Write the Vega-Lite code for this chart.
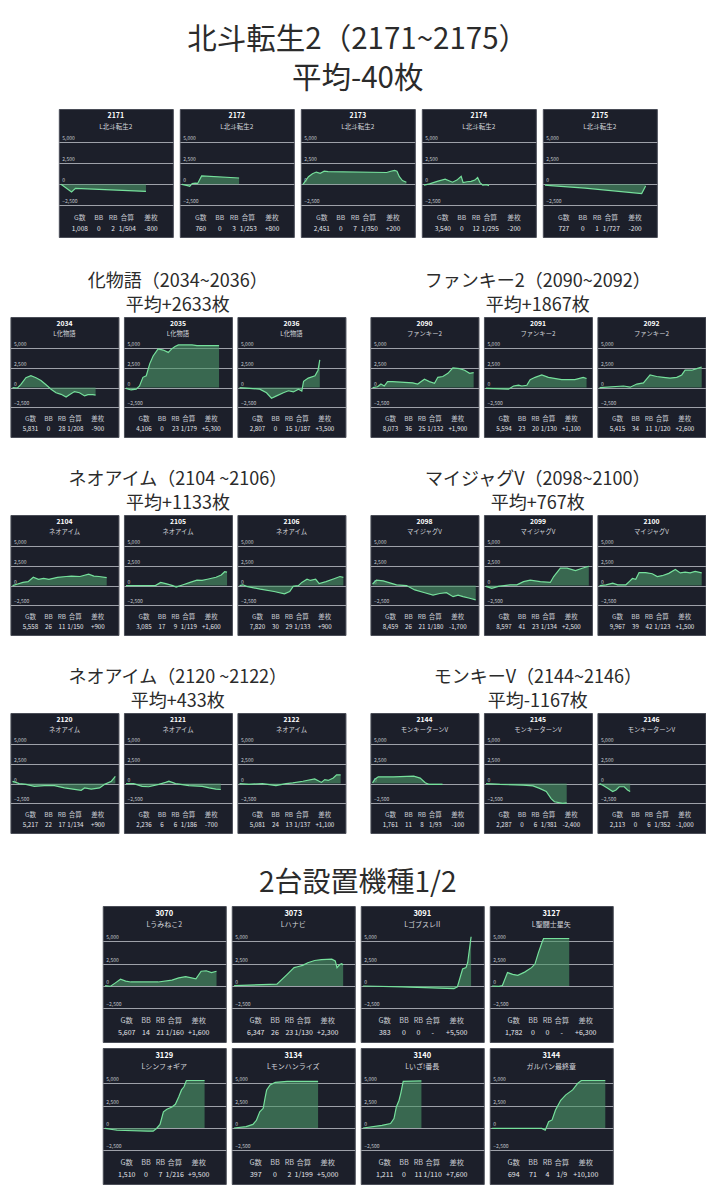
{
"$schema": "https://vega.github.io/schema/vega-lite/v6.json",
"background": "white",
"padding": {"left": 9, "top": 24, "right": 0, "bottom": 0},
"datasets": {"d": [
{"i":"2171","name":"L北斗転生2","G数":"1,008","BB":"0","RB":"2","合算":"1/504","差枚":"-800"},
{"i":"2172","name":"L北斗転生2","G数":"760","BB":"0","RB":"3","合算":"1/253","差枚":"+800"},
{"i":"2173","name":"L北斗転生2","G数":"2,451","BB":"0","RB":"7","合算":"1/350","差枚":"+200"},
{"i":"2174","name":"L北斗転生2","G数":"3,540","BB":"0","RB":"12","合算":"1/295","差枚":"-200"},
{"i":"2175","name":"L北斗転生2","G数":"727","BB":"0","RB":"1","合算":"1/727","差枚":"-200"},
{"i":"2034","name":"L化物語","G数":"5,831","BB":"0","RB":"28","合算":"1/208","差枚":"-900"},
{"i":"2035","name":"L化物語","G数":"4,106","BB":"0","RB":"23","合算":"1/179","差枚":"+5,300"},
{"i":"2036","name":"L化物語","G数":"2,807","BB":"0","RB":"15","合算":"1/187","差枚":"+3,500"},
{"i":"2090","name":"ファンキー2","G数":"8,073","BB":"36","RB":"25","合算":"1/132","差枚":"+1,900"},
{"i":"2091","name":"ファンキー2","G数":"5,594","BB":"23","RB":"20","合算":"1/130","差枚":"+1,100"},
{"i":"2092","name":"ファンキー2","G数":"5,415","BB":"34","RB":"11","合算":"1/120","差枚":"+2,600"},
{"i":"2104","name":"ネオアイム","G数":"5,558","BB":"26","RB":"11","合算":"1/150","差枚":"+900"},
{"i":"2105","name":"ネオアイム","G数":"3,085","BB":"17","RB":"9","合算":"1/119","差枚":"+1,600"},
{"i":"2106","name":"ネオアイム","G数":"7,820","BB":"30","RB":"29","合算":"1/133","差枚":"+900"},
{"i":"2098","name":"マイジャグV","G数":"8,459","BB":"26","RB":"21","合算":"1/180","差枚":"-1,700"},
{"i":"2099","name":"マイジャグV","G数":"8,597","BB":"41","RB":"23","合算":"1/134","差枚":"+2,500"},
{"i":"2100","name":"マイジャグV","G数":"9,967","BB":"39","RB":"42","合算":"1/123","差枚":"+1,500"},
{"i":"2120","name":"ネオアイム","G数":"5,217","BB":"22","RB":"17","合算":"1/134","差枚":"+900"},
{"i":"2121","name":"ネオアイム","G数":"2,236","BB":"6","RB":"6","合算":"1/186","差枚":"-700"},
{"i":"2122","name":"ネオアイム","G数":"5,081","BB":"24","RB":"13","合算":"1/137","差枚":"+1,100"},
{"i":"2144","name":"モンキーターンV","G数":"1,761","BB":"11","RB":"8","合算":"1/93","差枚":"-100"},
{"i":"2145","name":"モンキーターンV","G数":"2,287","BB":"0","RB":"6","合算":"1/381","差枚":"-2,400"},
{"i":"2146","name":"モンキーターンV","G数":"2,113","BB":"0","RB":"6","合算":"1/352","差枚":"-1,000"},
{"i":"3070","name":"Lうみねこ2","G数":"5,607","BB":"14","RB":"21","合算":"1/160","差枚":"+1,600"},
{"i":"3073","name":"Lハナビ","G数":"6,347","BB":"26","RB":"23","合算":"1/130","差枚":"+2,300"},
{"i":"3091","name":"LゴブスレII","G数":"383","BB":"0","RB":"0","合算":"-","差枚":"+5,500"},
{"i":"3127","name":"L聖闘士星矢","G数":"1,782","BB":"0","RB":"0","合算":"-","差枚":"+6,300"},
{"i":"3129","name":"Lシンフォギア","G数":"1,510","BB":"0","RB":"7","合算":"1/216","差枚":"+9,500"},
{"i":"3134","name":"Lモンハンライズ","G数":"397","BB":"0","RB":"2","合算":"1/199","差枚":"+5,000"},
{"i":"3140","name":"Lいざ!番長","G数":"1,211","BB":"0","RB":"11","合算":"1/110","差枚":"+7,600"},
{"i":"3144","name":"ガルパン最終章","G数":"694","BB":"71","RB":"4","合算":"1/9","差枚":"+10,100"},
{"i":"2171","x":0,"y":0},{"i":"2171","x":9.6,"y":-920},{"i":"2171","x":13.2,"y":-480},{"i":"2171","x":77.5,"y":-850},
{"i":"2172","x":0,"y":0},{"i":"2172","x":5,"y":-150},{"i":"2172","x":7.1,"y":-250},{"i":"2172","x":9.3,"y":100},{"i":"2172","x":12.1,"y":150},{"i":"2172","x":14.3,"y":100},{"i":"2172","x":17.9,"y":1000},{"i":"2172","x":52.1,"y":750},
{"i":"2173","x":0,"y":0},{"i":"2173","x":5,"y":900},{"i":"2173","x":8.6,"y":1250},{"i":"2173","x":12.1,"y":1450},{"i":"2173","x":15.7,"y":1300},{"i":"2173","x":19.3,"y":1550},{"i":"2173","x":22.9,"y":1500},{"i":"2173","x":76.4,"y":1400},{"i":"2173","x":80,"y":1550},{"i":"2173","x":83.6,"y":1650},{"i":"2173","x":85.7,"y":1550},{"i":"2173","x":87.9,"y":900},{"i":"2173","x":90.7,"y":450},{"i":"2173","x":94.3,"y":250},
{"i":"2174","x":0,"y":-100},{"i":"2174","x":5,"y":50},{"i":"2174","x":12,"y":350},{"i":"2174","x":19.3,"y":600},{"i":"2174","x":26,"y":250},{"i":"2174","x":30,"y":500},{"i":"2174","x":33.9,"y":950},{"i":"2174","x":35.7,"y":200},{"i":"2174","x":39.3,"y":300},{"i":"2174","x":42.9,"y":350},{"i":"2174","x":46.4,"y":500},{"i":"2174","x":48.9,"y":800},{"i":"2174","x":51.1,"y":200},{"i":"2174","x":53.6,"y":-100},{"i":"2174","x":57.1,"y":-50},{"i":"2174","x":59.3,"y":-150},
{"i":"2175","x":0,"y":-100},{"i":"2175","x":5,"y":-150},{"i":"2175","x":36.4,"y":-450},{"i":"2175","x":88.2,"y":-1100},{"i":"2175","x":91.8,"y":-200},
{"i":"2034","x":0,"y":0},{"i":"2034","x":4.8,"y":-50},{"i":"2034","x":8.1,"y":400},{"i":"2034","x":12.9,"y":1250},{"i":"2034","x":17.7,"y":1500},{"i":"2034","x":22.6,"y":1250},{"i":"2034","x":27.4,"y":900},{"i":"2034","x":32.3,"y":350},{"i":"2034","x":37.1,"y":-200},{"i":"2034","x":41.9,"y":-650},{"i":"2034","x":46.8,"y":-850},{"i":"2034","x":51.6,"y":-1200},{"i":"2034","x":54.8,"y":-900},{"i":"2034","x":59.7,"y":-500},{"i":"2034","x":64.5,"y":-650},{"i":"2034","x":69.4,"y":-1050},{"i":"2034","x":72.6,"y":-900},{"i":"2034","x":77.4,"y":-900},{"i":"2034","x":80,"y":-950},
{"i":"2035","x":0,"y":-100},{"i":"2035","x":4.9,"y":-300},{"i":"2035","x":9.8,"y":-200},{"i":"2035","x":13,"y":200},{"i":"2035","x":16.3,"y":1300},{"i":"2035","x":19.5,"y":1500},{"i":"2035","x":22.8,"y":3000},{"i":"2035","x":26.1,"y":4000},{"i":"2035","x":30.9,"y":4900},{"i":"2035","x":35.8,"y":4750},{"i":"2035","x":40.7,"y":4450},{"i":"2035","x":44,"y":4900},{"i":"2035","x":47.2,"y":5200},{"i":"2035","x":50.5,"y":5400},{"i":"2035","x":63.5,"y":5400},{"i":"2035","x":68.4,"y":5300},{"i":"2035","x":89.6,"y":5300},
{"i":"2036","x":0,"y":0},{"i":"2036","x":19.5,"y":-200},{"i":"2036","x":26,"y":-650},{"i":"2036","x":30.8,"y":-1350},{"i":"2036","x":35.7,"y":-1050},{"i":"2036","x":42.2,"y":-650},{"i":"2036","x":47.1,"y":-400},{"i":"2036","x":51.9,"y":-550},{"i":"2036","x":56.8,"y":-200},{"i":"2036","x":60,"y":-450},{"i":"2036","x":61.7,"y":800},{"i":"2036","x":66.2,"y":1200},{"i":"2036","x":72.7,"y":1500},{"i":"2036","x":75.6,"y":2200},{"i":"2036","x":77.3,"y":3500},
{"i":"2090","x":0,"y":0},{"i":"2090","x":4.8,"y":100},{"i":"2090","x":8.1,"y":450},{"i":"2090","x":11.3,"y":200},{"i":"2090","x":14.5,"y":750},{"i":"2090","x":19.4,"y":750},{"i":"2090","x":38.7,"y":600},{"i":"2090","x":43.5,"y":450},{"i":"2090","x":50,"y":1050},{"i":"2090","x":54.8,"y":750},{"i":"2090","x":59.7,"y":550},{"i":"2090","x":62.9,"y":1300},{"i":"2090","x":67.7,"y":1400},{"i":"2090","x":72.6,"y":1800},{"i":"2090","x":77.4,"y":2500},{"i":"2090","x":83.9,"y":2400},{"i":"2090","x":88.7,"y":2200},{"i":"2090","x":93.5,"y":1800},{"i":"2090","x":97.4,"y":1900},
{"i":"2091","x":0,"y":-100},{"i":"2091","x":21.7,"y":-200},{"i":"2091","x":26.5,"y":200},{"i":"2091","x":31.3,"y":300},{"i":"2091","x":34.5,"y":200},{"i":"2091","x":39.3,"y":300},{"i":"2091","x":42.5,"y":1000},{"i":"2091","x":47.3,"y":1300},{"i":"2091","x":53.7,"y":1600},{"i":"2091","x":60.1,"y":1300},{"i":"2091","x":72.8,"y":1000},{"i":"2091","x":85.6,"y":1000},{"i":"2091","x":93.6,"y":1300},{"i":"2091","x":96.8,"y":1150},
{"i":"2092","x":0,"y":0},{"i":"2092","x":23.1,"y":200},{"i":"2092","x":29.5,"y":50},{"i":"2092","x":35.9,"y":450},{"i":"2092","x":42.3,"y":600},{"i":"2092","x":48.7,"y":1600},{"i":"2092","x":55.1,"y":1400},{"i":"2092","x":61.5,"y":1300},{"i":"2092","x":67.9,"y":1200},{"i":"2092","x":74.4,"y":1300},{"i":"2092","x":79.2,"y":1600},{"i":"2092","x":82.4,"y":2200},{"i":"2092","x":88.8,"y":2200},{"i":"2092","x":93.6,"y":2400},{"i":"2092","x":98.4,"y":2600},
{"i":"2104","x":0,"y":0},{"i":"2104","x":5,"y":200},{"i":"2104","x":10,"y":400},{"i":"2104","x":15,"y":500},{"i":"2104","x":20,"y":1050},{"i":"2104","x":25,"y":800},{"i":"2104","x":30,"y":900},{"i":"2104","x":35,"y":800},{"i":"2104","x":43.3,"y":1050},{"i":"2104","x":51.7,"y":1150},{"i":"2104","x":56.7,"y":1200},{"i":"2104","x":65,"y":1150},{"i":"2104","x":73.3,"y":1450},{"i":"2104","x":78.3,"y":1200},{"i":"2104","x":83.3,"y":1150},{"i":"2104","x":90.7,"y":1000},
{"i":"2105","x":0,"y":0},{"i":"2105","x":28.3,"y":0},{"i":"2105","x":33.3,"y":400},{"i":"2105","x":38.3,"y":250},{"i":"2105","x":45,"y":0},{"i":"2105","x":48.3,"y":-200},{"i":"2105","x":55,"y":100},{"i":"2105","x":61.7,"y":400},{"i":"2105","x":68.3,"y":700},{"i":"2105","x":73.3,"y":650},{"i":"2105","x":78.3,"y":800},{"i":"2105","x":86.7,"y":1050},{"i":"2105","x":91.7,"y":1350},{"i":"2105","x":95,"y":1750},{"i":"2105","x":97.3,"y":1700},
{"i":"2106","x":0,"y":0},{"i":"2106","x":3.3,"y":100},{"i":"2106","x":6.7,"y":-100},{"i":"2106","x":20,"y":-450},{"i":"2106","x":33.3,"y":-750},{"i":"2106","x":43.3,"y":-1050},{"i":"2106","x":48.3,"y":-750},{"i":"2106","x":51.7,"y":-100},{"i":"2106","x":56.7,"y":0},{"i":"2106","x":60,"y":400},{"i":"2106","x":65,"y":800},{"i":"2106","x":68.3,"y":650},{"i":"2106","x":73.3,"y":800},{"i":"2106","x":76.7,"y":250},{"i":"2106","x":83.3,"y":500},{"i":"2106","x":91.7,"y":900},{"i":"2106","x":96.7,"y":1150},{"i":"2106","x":100,"y":1050},
{"i":"2098","x":0,"y":200},{"i":"2098","x":3.8,"y":700},{"i":"2098","x":10.3,"y":600},{"i":"2098","x":23.1,"y":100},{"i":"2098","x":32.7,"y":0},{"i":"2098","x":40.7,"y":-550},{"i":"2098","x":50.3,"y":-900},{"i":"2098","x":58.3,"y":-1200},{"i":"2098","x":64.7,"y":-1000},{"i":"2098","x":71.2,"y":-900},{"i":"2098","x":77.6,"y":-1400},{"i":"2098","x":82.4,"y":-1200},{"i":"2098","x":87.2,"y":-1400},{"i":"2098","x":93.6,"y":-1600},{"i":"2098","x":99.4,"y":-1800},
{"i":"2099","x":0,"y":-100},{"i":"2099","x":5.5,"y":-350},{"i":"2099","x":11.9,"y":-100},{"i":"2099","x":23.2,"y":100},{"i":"2099","x":29.7,"y":100},{"i":"2099","x":36.1,"y":500},{"i":"2099","x":42.6,"y":700},{"i":"2099","x":52.3,"y":500},{"i":"2099","x":61.9,"y":400},{"i":"2099","x":65.2,"y":1150},{"i":"2099","x":71.6,"y":2200},{"i":"2099","x":78.1,"y":2200},{"i":"2099","x":86.1,"y":1900},{"i":"2099","x":92.6,"y":2200},{"i":"2099","x":99,"y":2450},
{"i":"2100","x":0,"y":0},{"i":"2100","x":6.3,"y":100},{"i":"2100","x":12.7,"y":300},{"i":"2100","x":17.5,"y":100},{"i":"2100","x":25.4,"y":100},{"i":"2100","x":28.6,"y":500},{"i":"2100","x":31.7,"y":900},{"i":"2100","x":34.9,"y":800},{"i":"2100","x":38.1,"y":1650},{"i":"2100","x":44.4,"y":1650},{"i":"2100","x":50.8,"y":1500},{"i":"2100","x":55.6,"y":1150},{"i":"2100","x":60.3,"y":1250},{"i":"2100","x":66.7,"y":1550},{"i":"2100","x":73,"y":2050},{"i":"2100","x":77.8,"y":1600},{"i":"2100","x":82.5,"y":1700},{"i":"2100","x":87.3,"y":1600},{"i":"2100","x":92.1,"y":1800},{"i":"2100","x":98.4,"y":1600},
{"i":"2120","x":0,"y":300},{"i":"2120","x":3.2,"y":150},{"i":"2120","x":6.5,"y":0},{"i":"2120","x":12.9,"y":-100},{"i":"2120","x":21,"y":-350},{"i":"2120","x":30.6,"y":-250},{"i":"2120","x":40.3,"y":-250},{"i":"2120","x":50,"y":-550},{"i":"2120","x":58.1,"y":-700},{"i":"2120","x":66.1,"y":-850},{"i":"2120","x":69.4,"y":-550},{"i":"2120","x":75.8,"y":-700},{"i":"2120","x":83.9,"y":-550},{"i":"2120","x":88.7,"y":-100},{"i":"2120","x":95.2,"y":300},{"i":"2120","x":99,"y":900},
{"i":"2121","x":0,"y":0},{"i":"2121","x":7.4,"y":0},{"i":"2121","x":15.5,"y":-350},{"i":"2121","x":21.9,"y":-400},{"i":"2121","x":31.6,"y":-100},{"i":"2121","x":38.1,"y":150},{"i":"2121","x":41.3,"y":300},{"i":"2121","x":47.7,"y":0},{"i":"2121","x":60.6,"y":-250},{"i":"2121","x":73.5,"y":-350},{"i":"2121","x":80,"y":-550},{"i":"2121","x":86.5,"y":-700},{"i":"2121","x":91.3,"y":-750},
{"i":"2122","x":0,"y":0},{"i":"2122","x":9.1,"y":-100},{"i":"2122","x":22.1,"y":0},{"i":"2122","x":35.1,"y":-250},{"i":"2122","x":44.8,"y":0},{"i":"2122","x":51.3,"y":100},{"i":"2122","x":61,"y":300},{"i":"2122","x":72.4,"y":600},{"i":"2122","x":78.9,"y":150},{"i":"2122","x":82.1,"y":500},{"i":"2122","x":85.4,"y":400},{"i":"2122","x":90.3,"y":700},{"i":"2122","x":93.5,"y":1100},{"i":"2122","x":97.4,"y":1100},
{"i":"2144","x":0,"y":100},{"i":"2144","x":2.3,"y":550},{"i":"2144","x":5.5,"y":850},{"i":"2144","x":20.2,"y":850},{"i":"2144","x":39.7,"y":950},{"i":"2144","x":45.9,"y":700},{"i":"2144","x":50.8,"y":100},{"i":"2144","x":54.1,"y":-100},{"i":"2144","x":59,"y":-100},{"i":"2144","x":67.4,"y":-100},
{"i":"2145","x":0,"y":0},{"i":"2145","x":13.4,"y":-100},{"i":"2145","x":35.7,"y":-200},{"i":"2145","x":45.2,"y":-300},{"i":"2145","x":51.6,"y":-600},{"i":"2145","x":58,"y":-1000},{"i":"2145","x":62.7,"y":-1900},{"i":"2145","x":65.9,"y":-2300},{"i":"2145","x":73.9,"y":-2500},{"i":"2145","x":77.7,"y":-2450},
{"i":"2146","x":0,"y":0},{"i":"2146","x":3.2,"y":-200},{"i":"2146","x":7.9,"y":-600},{"i":"2146","x":12.7,"y":-1000},{"i":"2146","x":15.9,"y":-800},{"i":"2146","x":19,"y":-400},{"i":"2146","x":23.8,"y":-400},{"i":"2146","x":27,"y":-800},{"i":"2146","x":29.5,"y":-1000},
{"i":"3070","x":0,"y":50},{"i":"3070","x":4.3,"y":-50},{"i":"3070","x":8.7,"y":350},{"i":"3070","x":13,"y":750},{"i":"3070","x":17.4,"y":550},{"i":"3070","x":21.7,"y":450},{"i":"3070","x":44.9,"y":450},{"i":"3070","x":56.5,"y":650},{"i":"3070","x":62.3,"y":900},{"i":"3070","x":68.1,"y":1050},{"i":"3070","x":76.8,"y":800},{"i":"3070","x":81.2,"y":1650},{"i":"3070","x":85.5,"y":1700},{"i":"3070","x":89.9,"y":1500},{"i":"3070","x":94.2,"y":1650},
{"i":"3073","x":0,"y":50},{"i":"3073","x":36.2,"y":200},{"i":"3073","x":44.9,"y":1300},{"i":"3073","x":50.7,"y":2050},{"i":"3073","x":53.6,"y":2150},{"i":"3073","x":58,"y":2300},{"i":"3073","x":62.3,"y":2600},{"i":"3073","x":68.1,"y":2850},{"i":"3073","x":73.9,"y":2950},{"i":"3073","x":82.6,"y":3000},{"i":"3073","x":85.5,"y":2800},{"i":"3073","x":87,"y":2050},{"i":"3073","x":89.3,"y":2400},{"i":"3073","x":91,"y":2500},{"i":"3073","x":92.2,"y":2350},
{"i":"3091","x":0,"y":0},{"i":"3091","x":33.3,"y":-100},{"i":"3091","x":76.8,"y":-300},{"i":"3091","x":79.7,"y":-100},{"i":"3091","x":84.1,"y":1900},{"i":"3091","x":87,"y":2050},{"i":"3091","x":88.4,"y":2600},{"i":"3091","x":89.9,"y":4100},{"i":"3091","x":91.3,"y":5500},
{"i":"3127","x":0,"y":0},{"i":"3127","x":5.8,"y":-50},{"i":"3127","x":8.7,"y":50},{"i":"3127","x":13,"y":1500},{"i":"3127","x":17.4,"y":1300},{"i":"3127","x":21.7,"y":1200},{"i":"3127","x":27.5,"y":1550},{"i":"3127","x":33.3,"y":2050},{"i":"3127","x":36.2,"y":2450},{"i":"3127","x":39.1,"y":3700},{"i":"3127","x":42,"y":4800},{"i":"3127","x":43.5,"y":5300},{"i":"3127","x":65.2,"y":5300},
{"i":"3129","x":0,"y":-50},{"i":"3129","x":10.1,"y":-250},{"i":"3129","x":36.2,"y":-350},{"i":"3129","x":40.6,"y":-350},{"i":"3129","x":43.5,"y":-50},{"i":"3129","x":46.4,"y":400},{"i":"3129","x":49.3,"y":1800},{"i":"3129","x":52.2,"y":2100},{"i":"3129","x":56.5,"y":2350},{"i":"3129","x":59.4,"y":2650},{"i":"3129","x":62.3,"y":3500},{"i":"3129","x":64.6,"y":4250},{"i":"3129","x":66.7,"y":4600},{"i":"3129","x":68.7,"y":5300},{"i":"3129","x":84.1,"y":5300},
{"i":"3134","x":0,"y":0},{"i":"3134","x":10.1,"y":150},{"i":"3134","x":15.9,"y":400},{"i":"3134","x":18.8,"y":850},{"i":"3134","x":21.7,"y":1800},{"i":"3134","x":24.6,"y":2200},{"i":"3134","x":26.1,"y":3300},{"i":"3134","x":27.5,"y":4250},{"i":"3134","x":30.4,"y":4800},{"i":"3134","x":34.8,"y":5100},{"i":"3134","x":44.9,"y":5200},{"i":"3134","x":71,"y":5200},
{"i":"3140","x":0,"y":0},{"i":"3140","x":15.9,"y":300},{"i":"3140","x":23.2,"y":500},{"i":"3140","x":26.1,"y":1050},{"i":"3140","x":28.1,"y":2350},{"i":"3140","x":30.4,"y":3100},{"i":"3140","x":31.9,"y":3900},{"i":"3140","x":33.9,"y":5200},{"i":"3140","x":49.3,"y":5250},
{"i":"3144","x":0,"y":-50},{"i":"3144","x":42,"y":-50},{"i":"3144","x":44.9,"y":-250},{"i":"3144","x":47.8,"y":700},{"i":"3144","x":50.7,"y":900},{"i":"3144","x":53.6,"y":2000},{"i":"3144","x":58,"y":3100},{"i":"3144","x":62.3,"y":3700},{"i":"3144","x":68.1,"y":4250},{"i":"3144","x":72.5,"y":5000},{"i":"3144","x":75.4,"y":5300},{"i":"3144","x":95.7,"y":5300}
]},
"spacing": 35,
"center": true,
"vconcat": [
{"spacing": 34, "center": true, "vconcat": [
 {"data":{"name":"d"},"transform":[{"filter":{"field":"i","oneOf":["2171","2172","2173","2174","2175"]}}],
  "title":{"text":"北斗転生2（2171~2175）","subtitle":"平均-40枚","fontSize":29.5,"subtitleFontSize":29.5,"subtitlePadding":9.5,"offset":14.5},
  "facet":{"field":"i","type":"nominal","header":{"labels":false,"title":null,"labelFontSize":0,"labelPadding":0,"labelExpr":"''"}},"columns":5,"spacing":{"row":5,"column":5},
  "resolve":{"axis":{"y":"independent"}},
  "spec":{"width":114,"height":128,"resolve":{"scale":{"x":"independent"}},"layer":[
   {"transform":[{"filter":"isValid(datum.y)"}],"mark":"area","encoding":{"x":{"field":"x","type":"quantitative","scale":{"domain":[-2,102],"nice":false,"zero":false},"axis":null},"y":{"field":"y","type":"quantitative","scale":{"domain":[-6250,8930],"nice":false,"zero":false},"axis":{"values":[-2500,0,2500,5000],"tickCount":10,"format":",d","title":null}}}},
   {"transform":[{"filter":"isValid(datum.y)"}],"mark":"line","encoding":{"x":{"field":"x","type":"quantitative","scale":{"domain":[-2,102],"nice":false,"zero":false},"axis":null},"y":{"field":"y","type":"quantitative","scale":{"domain":[-6250,8930],"nice":false,"zero":false}}}},
   {"transform":[{"filter":"isValid(datum.name)"}],"mark":{"type":"text","fontSize":7,"fontWeight":"bold","color":"#ffffff"},"encoding":{"y":{"datum":8050},"text":{"field":"i"}}},
   {"transform":[{"filter":"isValid(datum.name)"}],"mark":{"type":"text","fontSize":6.5,"color":"#d4d6dc"},"encoding":{"y":{"datum":6800},"text":{"field":"name"}}},
   {"transform":[{"filter":"isValid(datum.name)"},{"fold":["G数","BB","RB","合算","差枚"],"as":["k","v"]}],"encoding":{"x":{"field":"k","type":"nominal","scale":{"type":"point","domain":["G数","a1","a2","a3","BB","a4","a5","RB","a6","a7","合算","a8","a9","a10","a11","差枚"],"range":[21,92.3],"padding":0},"axis":null}},"layer":[
     {"mark":{"type":"text","fontSize":6.8,"color":"#c8cbd2"},"encoding":{"y":{"datum":-3950},"text":{"field":"k"}}},
     {"mark":{"type":"text","fontSize":6.5,"color":"#e4e6ea"},"encoding":{"y":{"datum":-5300},"text":{"field":"v"}}}]}
  ]}},
 {"spacing": 32, "center": true, "vconcat": [
  {"spacing": 23, "hconcat": [
   {"data":{"name":"d"},"transform":[{"filter":{"field":"i","oneOf":["2034","2035","2036"]}}],
    "title":{"text":"化物語（2034~2036）","subtitle":"平均+2633枚","fontSize":18,"subtitleFontSize":18,"subtitlePadding":6,"offset":2},
    "facet":{"field":"i","type":"nominal","header":{"labels":false,"title":null,"labelFontSize":0,"labelPadding":0,"labelExpr":"''"}},"columns":3,"spacing":{"row":4,"column":3.5},
    "resolve":{"axis":{"y":"independent"}},
    "spec":{"width":108,"height":120,"resolve":{"scale":{"x":"independent"}},"layer":[
     {"transform":[{"filter":"isValid(datum.y)"}],"mark":"area","encoding":{"x":{"field":"x","type":"quantitative","scale":{"domain":[-2,102],"nice":false,"zero":false},"axis":null},"y":{"field":"y","type":"quantitative","scale":{"domain":[-6250,8930],"nice":false,"zero":false},"axis":{"values":[-2500,0,2500,5000],"tickCount":10,"format":",d","title":null}}}},
     {"transform":[{"filter":"isValid(datum.y)"}],"mark":"line","encoding":{"x":{"field":"x","type":"quantitative","scale":{"domain":[-2,102],"nice":false,"zero":false},"axis":null},"y":{"field":"y","type":"quantitative","scale":{"domain":[-6250,8930],"nice":false,"zero":false}}}},
     {"transform":[{"filter":"isValid(datum.name)"}],"mark":{"type":"text","fontSize":6.8,"fontWeight":"bold","color":"#ffffff"},"encoding":{"y":{"datum":8050},"text":{"field":"i"}}},
     {"transform":[{"filter":"isValid(datum.name)"}],"mark":{"type":"text","fontSize":6.3,"color":"#d4d6dc"},"encoding":{"y":{"datum":6800},"text":{"field":"name"}}},
     {"transform":[{"filter":"isValid(datum.name)"},{"fold":["G数","BB","RB","合算","差枚"],"as":["k","v"]}],"encoding":{"x":{"field":"k","type":"nominal","scale":{"type":"point","domain":["G数","a1","a2","a3","BB","a4","a5","RB","a6","a7","合算","a8","a9","a10","a11","差枚"],"range":[20,87.4],"padding":0},"axis":null}},"layer":[
       {"mark":{"type":"text","fontSize":6.5,"color":"#c8cbd2"},"encoding":{"y":{"datum":-3950},"text":{"field":"k"}}},
       {"mark":{"type":"text","fontSize":6.2,"color":"#e4e6ea"},"encoding":{"y":{"datum":-5300},"text":{"field":"v"}}}]}
    ]}},
   {"data":{"name":"d"},"transform":[{"filter":{"field":"i","oneOf":["2090","2091","2092"]}}],
    "title":{"text":"ファンキー2（2090~2092）","subtitle":"平均+1867枚","fontSize":18,"subtitleFontSize":18,"subtitlePadding":6,"offset":2},
    "facet":{"field":"i","type":"nominal","header":{"labels":false,"title":null,"labelFontSize":0,"labelPadding":0,"labelExpr":"''"}},"columns":3,"spacing":{"row":4,"column":3.5},
    "resolve":{"axis":{"y":"independent"}},
    "spec":{"width":108,"height":120,"resolve":{"scale":{"x":"independent"}},"layer":[
     {"transform":[{"filter":"isValid(datum.y)"}],"mark":"area","encoding":{"x":{"field":"x","type":"quantitative","scale":{"domain":[-2,102],"nice":false,"zero":false},"axis":null},"y":{"field":"y","type":"quantitative","scale":{"domain":[-6250,8930],"nice":false,"zero":false},"axis":{"values":[-2500,0,2500,5000],"tickCount":10,"format":",d","title":null}}}},
     {"transform":[{"filter":"isValid(datum.y)"}],"mark":"line","encoding":{"x":{"field":"x","type":"quantitative","scale":{"domain":[-2,102],"nice":false,"zero":false},"axis":null},"y":{"field":"y","type":"quantitative","scale":{"domain":[-6250,8930],"nice":false,"zero":false}}}},
     {"transform":[{"filter":"isValid(datum.name)"}],"mark":{"type":"text","fontSize":6.8,"fontWeight":"bold","color":"#ffffff"},"encoding":{"y":{"datum":8050},"text":{"field":"i"}}},
     {"transform":[{"filter":"isValid(datum.name)"}],"mark":{"type":"text","fontSize":6.3,"color":"#d4d6dc"},"encoding":{"y":{"datum":6800},"text":{"field":"name"}}},
     {"transform":[{"filter":"isValid(datum.name)"},{"fold":["G数","BB","RB","合算","差枚"],"as":["k","v"]}],"encoding":{"x":{"field":"k","type":"nominal","scale":{"type":"point","domain":["G数","a1","a2","a3","BB","a4","a5","RB","a6","a7","合算","a8","a9","a10","a11","差枚"],"range":[20,87.4],"padding":0},"axis":null}},"layer":[
       {"mark":{"type":"text","fontSize":6.5,"color":"#c8cbd2"},"encoding":{"y":{"datum":-3950},"text":{"field":"k"}}},
       {"mark":{"type":"text","fontSize":6.2,"color":"#e4e6ea"},"encoding":{"y":{"datum":-5300},"text":{"field":"v"}}}]}
    ]}}
  ]},
  {"spacing": 23, "hconcat": [
   {"data":{"name":"d"},"transform":[{"filter":{"field":"i","oneOf":["2104","2105","2106"]}}],
    "title":{"text":"ネオアイム（2104 ~2106）","subtitle":"平均+1133枚","fontSize":18,"subtitleFontSize":18,"subtitlePadding":6,"offset":2},
    "facet":{"field":"i","type":"nominal","header":{"labels":false,"title":null,"labelFontSize":0,"labelPadding":0,"labelExpr":"''"}},"columns":3,"spacing":{"row":4,"column":3.5},
    "resolve":{"axis":{"y":"independent"}},
    "spec":{"width":108,"height":120,"resolve":{"scale":{"x":"independent"}},"layer":[
     {"transform":[{"filter":"isValid(datum.y)"}],"mark":"area","encoding":{"x":{"field":"x","type":"quantitative","scale":{"domain":[-2,102],"nice":false,"zero":false},"axis":null},"y":{"field":"y","type":"quantitative","scale":{"domain":[-6250,8930],"nice":false,"zero":false},"axis":{"values":[-2500,0,2500,5000],"tickCount":10,"format":",d","title":null}}}},
     {"transform":[{"filter":"isValid(datum.y)"}],"mark":"line","encoding":{"x":{"field":"x","type":"quantitative","scale":{"domain":[-2,102],"nice":false,"zero":false},"axis":null},"y":{"field":"y","type":"quantitative","scale":{"domain":[-6250,8930],"nice":false,"zero":false}}}},
     {"transform":[{"filter":"isValid(datum.name)"}],"mark":{"type":"text","fontSize":6.8,"fontWeight":"bold","color":"#ffffff"},"encoding":{"y":{"datum":8050},"text":{"field":"i"}}},
     {"transform":[{"filter":"isValid(datum.name)"}],"mark":{"type":"text","fontSize":6.3,"color":"#d4d6dc"},"encoding":{"y":{"datum":6800},"text":{"field":"name"}}},
     {"transform":[{"filter":"isValid(datum.name)"},{"fold":["G数","BB","RB","合算","差枚"],"as":["k","v"]}],"encoding":{"x":{"field":"k","type":"nominal","scale":{"type":"point","domain":["G数","a1","a2","a3","BB","a4","a5","RB","a6","a7","合算","a8","a9","a10","a11","差枚"],"range":[20,87.4],"padding":0},"axis":null}},"layer":[
       {"mark":{"type":"text","fontSize":6.5,"color":"#c8cbd2"},"encoding":{"y":{"datum":-3950},"text":{"field":"k"}}},
       {"mark":{"type":"text","fontSize":6.2,"color":"#e4e6ea"},"encoding":{"y":{"datum":-5300},"text":{"field":"v"}}}]}
    ]}},
   {"data":{"name":"d"},"transform":[{"filter":{"field":"i","oneOf":["2098","2099","2100"]}}],
    "title":{"text":"マイジャグV（2098~2100）","subtitle":"平均+767枚","fontSize":18,"subtitleFontSize":18,"subtitlePadding":6,"offset":2},
    "facet":{"field":"i","type":"nominal","header":{"labels":false,"title":null,"labelFontSize":0,"labelPadding":0,"labelExpr":"''"}},"columns":3,"spacing":{"row":4,"column":3.5},
    "resolve":{"axis":{"y":"independent"}},
    "spec":{"width":108,"height":120,"resolve":{"scale":{"x":"independent"}},"layer":[
     {"transform":[{"filter":"isValid(datum.y)"}],"mark":"area","encoding":{"x":{"field":"x","type":"quantitative","scale":{"domain":[-2,102],"nice":false,"zero":false},"axis":null},"y":{"field":"y","type":"quantitative","scale":{"domain":[-6250,8930],"nice":false,"zero":false},"axis":{"values":[-2500,0,2500,5000],"tickCount":10,"format":",d","title":null}}}},
     {"transform":[{"filter":"isValid(datum.y)"}],"mark":"line","encoding":{"x":{"field":"x","type":"quantitative","scale":{"domain":[-2,102],"nice":false,"zero":false},"axis":null},"y":{"field":"y","type":"quantitative","scale":{"domain":[-6250,8930],"nice":false,"zero":false}}}},
     {"transform":[{"filter":"isValid(datum.name)"}],"mark":{"type":"text","fontSize":6.8,"fontWeight":"bold","color":"#ffffff"},"encoding":{"y":{"datum":8050},"text":{"field":"i"}}},
     {"transform":[{"filter":"isValid(datum.name)"}],"mark":{"type":"text","fontSize":6.3,"color":"#d4d6dc"},"encoding":{"y":{"datum":6800},"text":{"field":"name"}}},
     {"transform":[{"filter":"isValid(datum.name)"},{"fold":["G数","BB","RB","合算","差枚"],"as":["k","v"]}],"encoding":{"x":{"field":"k","type":"nominal","scale":{"type":"point","domain":["G数","a1","a2","a3","BB","a4","a5","RB","a6","a7","合算","a8","a9","a10","a11","差枚"],"range":[20,87.4],"padding":0},"axis":null}},"layer":[
       {"mark":{"type":"text","fontSize":6.5,"color":"#c8cbd2"},"encoding":{"y":{"datum":-3950},"text":{"field":"k"}}},
       {"mark":{"type":"text","fontSize":6.2,"color":"#e4e6ea"},"encoding":{"y":{"datum":-5300},"text":{"field":"v"}}}]}
    ]}}
  ]},
  {"spacing": 23, "hconcat": [
   {"data":{"name":"d"},"transform":[{"filter":{"field":"i","oneOf":["2120","2121","2122"]}}],
    "title":{"text":"ネオアイム（2120 ~2122）","subtitle":"平均+433枚","fontSize":18,"subtitleFontSize":18,"subtitlePadding":6,"offset":2},
    "facet":{"field":"i","type":"nominal","header":{"labels":false,"title":null,"labelFontSize":0,"labelPadding":0,"labelExpr":"''"}},"columns":3,"spacing":{"row":4,"column":3.5},
    "resolve":{"axis":{"y":"independent"}},
    "spec":{"width":108,"height":120,"resolve":{"scale":{"x":"independent"}},"layer":[
     {"transform":[{"filter":"isValid(datum.y)"}],"mark":"area","encoding":{"x":{"field":"x","type":"quantitative","scale":{"domain":[-2,102],"nice":false,"zero":false},"axis":null},"y":{"field":"y","type":"quantitative","scale":{"domain":[-6250,8930],"nice":false,"zero":false},"axis":{"values":[-2500,0,2500,5000],"tickCount":10,"format":",d","title":null}}}},
     {"transform":[{"filter":"isValid(datum.y)"}],"mark":"line","encoding":{"x":{"field":"x","type":"quantitative","scale":{"domain":[-2,102],"nice":false,"zero":false},"axis":null},"y":{"field":"y","type":"quantitative","scale":{"domain":[-6250,8930],"nice":false,"zero":false}}}},
     {"transform":[{"filter":"isValid(datum.name)"}],"mark":{"type":"text","fontSize":6.8,"fontWeight":"bold","color":"#ffffff"},"encoding":{"y":{"datum":8050},"text":{"field":"i"}}},
     {"transform":[{"filter":"isValid(datum.name)"}],"mark":{"type":"text","fontSize":6.3,"color":"#d4d6dc"},"encoding":{"y":{"datum":6800},"text":{"field":"name"}}},
     {"transform":[{"filter":"isValid(datum.name)"},{"fold":["G数","BB","RB","合算","差枚"],"as":["k","v"]}],"encoding":{"x":{"field":"k","type":"nominal","scale":{"type":"point","domain":["G数","a1","a2","a3","BB","a4","a5","RB","a6","a7","合算","a8","a9","a10","a11","差枚"],"range":[20,87.4],"padding":0},"axis":null}},"layer":[
       {"mark":{"type":"text","fontSize":6.5,"color":"#c8cbd2"},"encoding":{"y":{"datum":-3950},"text":{"field":"k"}}},
       {"mark":{"type":"text","fontSize":6.2,"color":"#e4e6ea"},"encoding":{"y":{"datum":-5300},"text":{"field":"v"}}}]}
    ]}},
   {"data":{"name":"d"},"transform":[{"filter":{"field":"i","oneOf":["2144","2145","2146"]}}],
    "title":{"text":"モンキーV（2144~2146）","subtitle":"平均-1167枚","fontSize":18,"subtitleFontSize":18,"subtitlePadding":6,"offset":2},
    "facet":{"field":"i","type":"nominal","header":{"labels":false,"title":null,"labelFontSize":0,"labelPadding":0,"labelExpr":"''"}},"columns":3,"spacing":{"row":4,"column":3.5},
    "resolve":{"axis":{"y":"independent"}},
    "spec":{"width":108,"height":120,"resolve":{"scale":{"x":"independent"}},"layer":[
     {"transform":[{"filter":"isValid(datum.y)"}],"mark":"area","encoding":{"x":{"field":"x","type":"quantitative","scale":{"domain":[-2,102],"nice":false,"zero":false},"axis":null},"y":{"field":"y","type":"quantitative","scale":{"domain":[-6250,8930],"nice":false,"zero":false},"axis":{"values":[-2500,0,2500,5000],"tickCount":10,"format":",d","title":null}}}},
     {"transform":[{"filter":"isValid(datum.y)"}],"mark":"line","encoding":{"x":{"field":"x","type":"quantitative","scale":{"domain":[-2,102],"nice":false,"zero":false},"axis":null},"y":{"field":"y","type":"quantitative","scale":{"domain":[-6250,8930],"nice":false,"zero":false}}}},
     {"transform":[{"filter":"isValid(datum.name)"}],"mark":{"type":"text","fontSize":6.8,"fontWeight":"bold","color":"#ffffff"},"encoding":{"y":{"datum":8050},"text":{"field":"i"}}},
     {"transform":[{"filter":"isValid(datum.name)"}],"mark":{"type":"text","fontSize":6.3,"color":"#d4d6dc"},"encoding":{"y":{"datum":6800},"text":{"field":"name"}}},
     {"transform":[{"filter":"isValid(datum.name)"},{"fold":["G数","BB","RB","合算","差枚"],"as":["k","v"]}],"encoding":{"x":{"field":"k","type":"nominal","scale":{"type":"point","domain":["G数","a1","a2","a3","BB","a4","a5","RB","a6","a7","合算","a8","a9","a10","a11","差枚"],"range":[20,87.4],"padding":0},"axis":null}},"layer":[
       {"mark":{"type":"text","fontSize":6.5,"color":"#c8cbd2"},"encoding":{"y":{"datum":-3950},"text":{"field":"k"}}},
       {"mark":{"type":"text","fontSize":6.2,"color":"#e4e6ea"},"encoding":{"y":{"datum":-5300},"text":{"field":"v"}}}]}
    ]}}
  ]}
 ]}
]},
{"data":{"name":"d"},"transform":[{"filter":{"field":"i","oneOf":["3070","3073","3091","3127","3129","3134","3140","3144"]}}],
 "title":{"text":"2台設置機種1/2","fontSize":28,"offset":8},
 "facet":{"field":"i","type":"nominal","header":{"labels":false,"title":null,"labelFontSize":0,"labelPadding":0,"labelExpr":"''"}},"columns":4,"spacing":{"row":4,"column":4},
 "resolve":{"axis":{"y":"independent"}},
 "spec":{"width":123,"height":136,"resolve":{"scale":{"x":"independent"}},"layer":[
  {"transform":[{"filter":"isValid(datum.y)"}],"mark":"area","encoding":{"x":{"field":"x","type":"quantitative","scale":{"domain":[-2,102],"nice":false,"zero":false},"axis":null},"y":{"field":"y","type":"quantitative","scale":{"domain":[-6250,8930],"nice":false,"zero":false},"axis":{"values":[-2500,0,2500,5000],"tickCount":10,"format":",d","title":null}}}},
  {"transform":[{"filter":"isValid(datum.y)"}],"mark":"line","encoding":{"x":{"field":"x","type":"quantitative","scale":{"domain":[-2,102],"nice":false,"zero":false},"axis":null},"y":{"field":"y","type":"quantitative","scale":{"domain":[-6250,8930],"nice":false,"zero":false}}}},
  {"transform":[{"filter":"isValid(datum.name)"}],"mark":{"type":"text","fontSize":7.5,"fontWeight":"bold","color":"#ffffff"},"encoding":{"y":{"datum":8050},"text":{"field":"i"}}},
  {"transform":[{"filter":"isValid(datum.name)"}],"mark":{"type":"text","fontSize":7,"color":"#d4d6dc"},"encoding":{"y":{"datum":6800},"text":{"field":"name"}}},
  {"transform":[{"filter":"isValid(datum.name)"},{"fold":["G数","BB","RB","合算","差枚"],"as":["k","v"]}],"encoding":{"x":{"field":"k","type":"nominal","scale":{"type":"point","domain":["G数","a1","a2","a3","BB","a4","a5","RB","a6","a7","合算","a8","a9","a10","a11","差枚"],"range":[24,96],"padding":0},"axis":null}},"layer":[
    {"mark":{"type":"text","fontSize":7.3,"color":"#c8cbd2"},"encoding":{"y":{"datum":-3950},"text":{"field":"k"}}},
    {"mark":{"type":"text","fontSize":7,"color":"#e4e6ea"},"encoding":{"y":{"datum":-5300},"text":{"field":"v"}}}]}
 ]}}
],
"config": {
 "font": "Noto Sans CJK JP",
 "view": {"fill": "#1c1f2a", "stroke": "#4a4d57", "strokeWidth": 1},
 "area": {"color": "#4c9a6a", "fillOpacity": 0.6},
 "line": {"color": "#76e09c", "strokeWidth": 1.2},
 "text": {"baseline": "middle", "align": "center"},
 "header": {"labels": false, "labelFontSize": 0, "labelPadding": 0, "titlePadding": 0},
 "headerFacet": {"labels": false, "labelFontSize": 0, "labelPadding": 0, "titlePadding": 0},
 "axisY": {"grid": true, "gridColor": "#9ea1a9", "gridWidth": 1, "domain": false, "ticks": false, "tickSize": 0, "labelAlign": "left", "labelBaseline": "bottom", "labelPadding": -3, "labelOffset": -1.5, "labelFontSize": 5, "labelColor": "#c3c6cc", "labelOverlap": false, "labelFlush": false, "minExtent": 0, "maxExtent": 0},
 "title": {"font": "Noto Sans CJK JP", "subtitleFont": "Noto Sans CJK JP", "fontWeight": "normal", "color": "#2b2b2b", "subtitleColor": "#2b2b2b", "anchor": "middle"}
}
}
